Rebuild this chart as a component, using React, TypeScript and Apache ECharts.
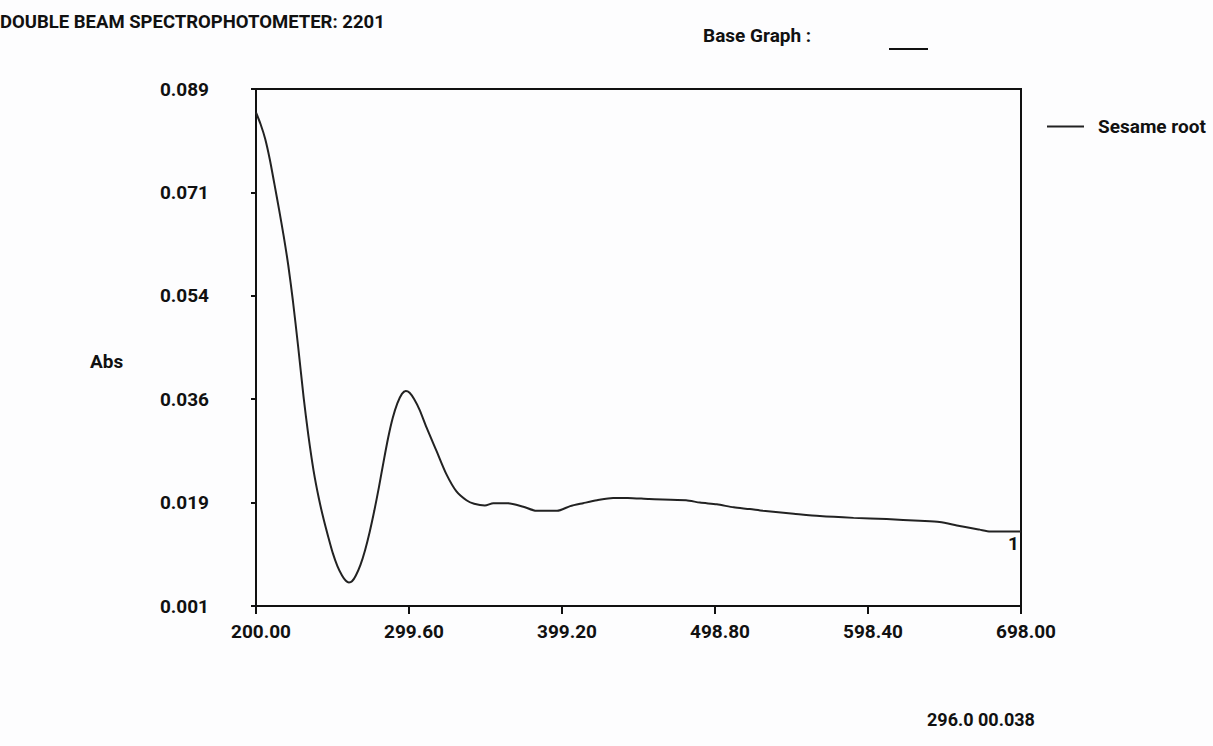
import React, { useEffect, useRef } from "react";
import * as echarts from "echarts";

const wavelengths = [
  200, 203, 206, 209, 212, 215, 218, 221, 224, 227.5, 231, 234, 237.5, 241, 244, 247, 250, 253,
  256, 258.5, 260.5, 262.5, 265, 268, 271, 274, 277, 280, 283, 286, 289, 292, 295, 297.5, 300,
  303, 306.5, 311, 317.5, 324, 330.5, 337, 342, 349, 354.5, 364, 374, 382.5, 396, 404.5, 413, 422,
  432.5, 442, 456, 480, 489, 500, 511, 521.5, 530, 550, 567, 589, 610.5, 632, 645, 658, 671, 678,
  698,
];
const absorbance = [
  0.085, 0.083, 0.0805, 0.077, 0.0728, 0.0685, 0.064, 0.059, 0.053, 0.045, 0.0365, 0.0302, 0.024,
  0.0192, 0.0158, 0.0128, 0.01, 0.0078, 0.0062, 0.0053, 0.005, 0.0052, 0.0062, 0.008, 0.0105,
  0.0136, 0.0172, 0.0212, 0.0255, 0.0296, 0.033, 0.0355, 0.0371, 0.0376, 0.0373, 0.0362, 0.0344,
  0.0314, 0.0274, 0.0234, 0.0205, 0.019, 0.0184, 0.0181, 0.0185, 0.0185, 0.0179, 0.0172, 0.0172,
  0.018, 0.0185, 0.019, 0.0194, 0.0194, 0.0192, 0.019, 0.0186, 0.0183, 0.0178, 0.0175, 0.0172,
  0.0167, 0.0163, 0.016, 0.0158, 0.0155, 0.0153, 0.0146, 0.014, 0.0137, 0.0137,
];
const xTicks = [200, 299.6, 399.2, 498.8, 598.4, 698];
const yTicks = [0.001, 0.0186, 0.0362, 0.0538, 0.0714, 0.089];
const seriesName = "Sesame root";
const titleText = "DOUBLE BEAM SPECTROPHOTOMETER: 2201";
const baseGraphText = "Base Graph :";
const yAxisName = "Abs";
const readout = "296.0 00.038";

const FONT = 'Roboto, "Liberation Sans Narrow", sans-serif';

export default function App() {
  const ref = useRef<HTMLDivElement>(null);
  useEffect(() => {
    if (!ref.current) return;
    const chart = echarts.init(ref.current, undefined, { renderer: "svg" });
    const txt = (s: any) => ({ fontFamily: FONT, fontWeight: "bold", fill: "#111", ...s });
    chart.setOption({
      animation: false,
      backgroundColor: "#fdfdfe",
      grid: {
        left: 256,
        right: 192,
        top: 89,
        bottom: 140,
        show: true,
        borderColor: "#111",
        borderWidth: 2,
        backgroundColor: "transparent",
      },
      legend: {
        data: [seriesName],
        left: 1042,
        top: 112,
        icon: "rect",
        itemWidth: 37,
        itemHeight: 2,
        textStyle: {
          fontFamily: FONT,
          fontWeight: "bold",
          fontSize: 19,
          color: "#111",
          padding: [0, 0, 0, 9],
        },
      },
      xAxis: {
        type: "value",
        min: 200,
        max: 698,
        splitLine: { show: false },
        axisLine: { show: true, lineStyle: { color: "#111", width: 2 } },
        axisTick: { show: true, length: 8, customValues: xTicks, lineStyle: { color: "#111", width: 2 } },
        axisLabel: {
          customValues: xTicks,
          formatter: (v: number) => v.toFixed(2),
          fontFamily: FONT,
          fontWeight: "bold",
          fontSize: 19,
          color: "#111",
          margin: 16,
          padding: [0, 0, 0, 10],
        },
      },
      yAxis: {
        type: "value",
        min: 0.001,
        max: 0.089,
        splitLine: { show: false },
        axisLine: { show: true, lineStyle: { color: "#111", width: 2 } },
        axisTick: { show: true, length: 5, customValues: yTicks, lineStyle: { color: "#111", width: 2 } },
        axisLabel: {
          customValues: yTicks,
          formatter: (v: number) => v.toFixed(3),
          fontFamily: FONT,
          fontWeight: "bold",
          fontSize: 19,
          color: "#111",
          margin: 47,
        },
      },
      series: [
        {
          name: seriesName,
          type: "line",
          data: wavelengths.map((w, i) => [w, absorbance[i]]),
          showSymbol: false,
          smooth: 0.25,
          lineStyle: { color: "#222", width: 2 },
          itemStyle: { color: "#222" },
        },
      ],
      graphic: [
        { type: "text", left: 0, top: 12, style: txt({ text: titleText, fontSize: 18.5 }) },
        { type: "text", left: 703, top: 26, style: txt({ text: baseGraphText, fontSize: 19 }) },
        { type: "line", shape: { x1: 889, y1: 49, x2: 928, y2: 49 }, style: { stroke: "#111", lineWidth: 2 } },
        { type: "text", left: 90, top: 352, style: txt({ text: yAxisName, fontSize: 19 }) },
        { type: "text", left: 1008, top: 534, style: txt({ text: "1", fontSize: 19 }) },
        { type: "text", left: 927, top: 710, style: txt({ text: readout, fontSize: 18 }) },
      ],
    });
    return () => chart.dispose();
  }, []);
  return (
    <div
      ref={ref}
      style={{ position: "fixed", left: 0, top: 0, width: 1213, height: 746 }}
    />
  );
}
